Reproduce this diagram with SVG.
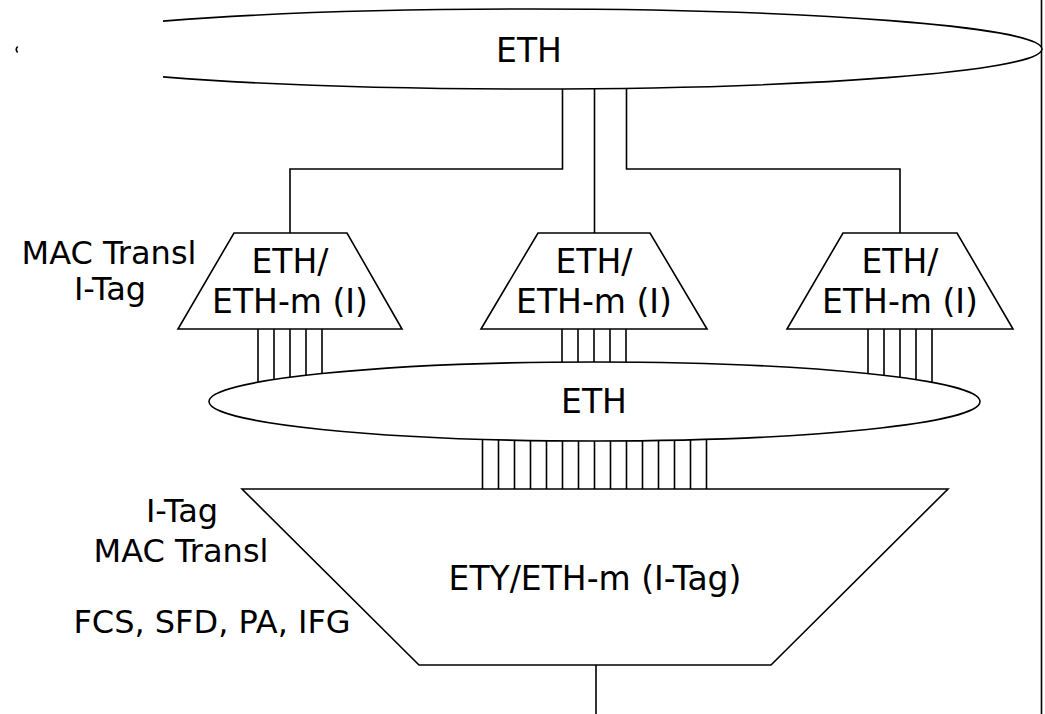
<svg xmlns="http://www.w3.org/2000/svg" width="1045" height="714" viewBox="0 0 1045 714">
<style>
.s{fill:#fff;stroke:#000;stroke-width:1.6}
.c{fill:none;stroke:#000;stroke-width:1.6}
.t{font-family:"DejaVu Sans",sans-serif;font-size:33px;fill:#000;text-anchor:middle}
.l{font-family:"DejaVu Sans",sans-serif;font-size:32px;fill:#000;text-anchor:middle}
</style>
<rect width="1045" height="714" fill="#fff"/>
<g id="connectors" class="c">
<path d="M562.5 80V169H290V240"/>
<path d="M594.5 80V240"/>
<path d="M626.5 80V169H900V240"/>
<path d="M258 325V382.2M274 325V379.5M290 325V377.3M306 325V375.3M322 325V373.6"/>
<path d="M562 325V362.3M578 325V362.3M594 325V362.3M610 325V362.3M626 325V362.3"/>
<path d="M868 325V373.7M884 325V375.4M900 325V377.4M916 325V379.7M932 325V382.4"/>
<path d="M482.5 436V489M498.5 436V489M514.5 436V489M530.5 436V489M546.5 436V489M562.5 436V489M578.5 436V489M594.5 436V489M610.5 436V489M626.5 436V489M642.5 436V489M658.5 436V489M674.5 436V489M690.5 436V489M706.5 436V489"/>
<path d="M596 660V714"/>
<path d="M1041.5 0V714"/>
</g>
<g id="eth-top">
<path class="s" d="M163 21.1A512 40 0 1 1 163 76.9"/>
<path class="c" d="M17.7 46.5A512 40 0 0 0 17.7 52.5"/>
<text class="t" x="529" y="62">ETH</text>
</g>
<g id="mac1">
<polygon class="s" points="234,233 347,233 402,329 178,329"/>
<text class="t" x="290" y="273">ETH/</text>
<text class="t" x="290" y="313">ETH-m (I)</text>
</g>
<g id="mac2">
<polygon class="s" points="538,233 650,233 707,329 481,329"/>
<text class="t" x="594" y="273">ETH/</text>
<text class="t" x="594" y="313">ETH-m (I)</text>
</g>
<g id="mac3">
<polygon class="s" points="843,233 957,233 1013,329 787,329"/>
<text class="t" x="900" y="273">ETH/</text>
<text class="t" x="900" y="313">ETH-m (I)</text>
</g>
<g id="eth-mid">
<ellipse class="s" cx="594.5" cy="401.5" rx="385.5" ry="39.5"/>
<text class="t" x="594" y="413">ETH</text>
</g>
<g id="ety">
<polygon class="s" points="242,489 948,489 771,665 419,665"/>
<text class="t" x="595" y="590">ETY/ETH-m (I-Tag)</text>
</g>
<g id="labels">
<text class="l" x="109" y="264">MAC Transl</text>
<text class="l" x="110" y="300">I-Tag</text>
<text class="l" x="182" y="522">I-Tag</text>
<text class="l" x="181" y="562">MAC Transl</text>
<text class="l" x="212" y="633">FCS, SFD, PA, IFG</text>
</g>
</svg>
